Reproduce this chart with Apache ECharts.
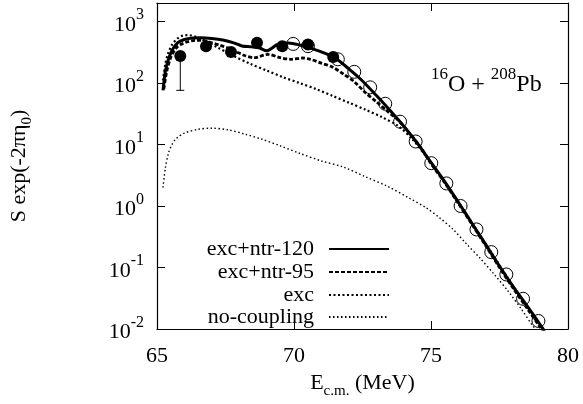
<!DOCTYPE html>
<html>
<head>
<meta charset="utf-8">
<script src="https://cdn.jsdelivr.net/npm/echarts@6/dist/echarts.min.js"></script>
<style>html,body{margin:0;padding:0;background:#fff}#c{width:583px;height:404px}</style>
</head>
<body>
<div id="c"></div>
<script>
// exc+ntr-120 (solid)
const E_ntr120 = [65.22,65.3,65.4,65.55,65.75,66.0,66.3,66.6,67.0,67.4,67.8,68.1,68.45,68.75,69.0,69.4,69.8,70.25,70.6,71.0,71.5,72.0,72.5,73.0,73.5,74.0,74.5,75.0,75.5,76.0,76.5,77.0,77.5,78.0,78.5,79.0,79.15];
const S_ntr120 = [76,150,230,340,450,510,540,545,530,500,450,400,387,370,334,424,449,410,370,320,255,170,108,63,36,20,10.5,5.1,2.5,1.15,0.52,0.235,0.105,0.049,0.024,0.0115,0.0092];
// exc+ntr-95 (dashed)
const E_ntr95 = [65.25,65.35,65.5,65.7,65.9,66.1,66.4,66.7,67.0,67.3,67.6,67.9,68.2,68.55,69.05,69.5,69.9,70.3,70.6,71.0,71.4,71.8,72.2,72.6,73.0,73.4,73.8,74.2,74.6,75.0,75.5,76.0,76.5,77.0,77.5,78.0,78.5,79.0,79.15];
const S_ntr95 = [80,150,260,370,430,465,495,490,450,410,370,320,280,258,292,258,243,255,243,210,182,140,105,70,50,35,25,15.5,9.3,4.9,2.4,1.1,0.5,0.225,0.1,0.046,0.022,0.0105,0.0088];
// exc (dotted)
const E_exc = [65.22,65.3,65.4,65.55,65.75,65.95,66.15,66.4,66.75,67.2,67.8,68.4,69.0,69.6,70.2,70.8,71.4,72.0,72.6,73.2,73.8,74.3,74.8,75.3,75.8,76.3,76.8,77.3,77.8,78.3,78.8,79.1];
const S_exc = [110,200,300,420,530,590,600,570,480,380,275,205,160,124,100,80,62,48,37,28,20,12.5,6.6,3.3,1.55,0.72,0.33,0.15,0.068,0.031,0.0142,0.0092];
// no-coupling (fine dotted)
const E_noc = [65.22,65.3,65.42,65.55,65.7,66.0,66.5,67.0,67.6,68.2,68.8,69.5,70.2,71.0,71.8,72.6,73.4,74.2,74.8,75.3,75.8,76.3,76.8,77.3,77.8,78.3,78.7,78.85];
const S_noc = [2.0,4.0,7.3,10,12.5,15.3,17.7,18.4,17.3,14.8,12.3,9.5,7.2,5.4,4.3,3.0,2.1,1.35,0.95,0.65,0.42,0.24,0.14,0.078,0.042,0.021,0.0115,0.0095];
// experimental data
const E_open = [69.97,70.51,71.6,72.2,72.78,73.33,73.87,74.44,75.01,75.56,76.08,76.66,77.2,77.75,78.36,78.92];
const S_open = [432,397,243,152,85,46,23.5,11.2,4.97,2.33,1.0,0.416,0.178,0.077,0.031,0.0135];
const E_fill = [65.85,66.79,67.7,68.65,69.57,70.51,71.43];
const S_fill = [275,397,318,452,397,424,265];
const E_err = [65.85];
const S_errLo = [76];
const S_errHi = [275];
// axis
const xTicks = [65,70,75,80];
const seriesNames = ['exc+ntr-120','exc+ntr-95','exc','no-coupling'];

const zip = (a,b) => a.map((v,i)=>[v,b[i]]);
const FONT = '"Liberation Serif","DejaVu Serif",serif';
const supRich = {
  b:{fontSize:22,fontFamily:FONT,color:'#000',padding:[7,0,0,0],verticalAlign:'bottom'},
  s:{fontSize:16,fontFamily:FONT,color:'#000',verticalAlign:'top'}
};
const logFmt = v => {
  const e = Math.log10(v);
  if (Math.abs(e-Math.round(e))>1e-6) return '';
  return '{b|10}{s|'+Math.round(e)+'}';
};
const tickStyle = {show:true,inside:true,length:8,lineStyle:{color:'#000',width:1}};
const lineAx = {show:true,lineStyle:{color:'#000',width:1.2}};

const mkLegend = (name, centerY) => ({
  data:[name], right:193, top:centerY-12, align:'right', orient:'horizontal', padding:0,
  itemWidth:60, itemHeight:14, selectedMode:false,
  itemStyle:{opacity:0},
  textStyle:{fontSize:22,fontFamily:FONT,color:'#000',padding:[0,10,0,0]}
});

const chart = echarts.init(document.getElementById('c'), null, {renderer:'canvas'});
chart.setOption({
  animation:false,
  backgroundColor:'#fff',
  color:['#000'],
  grid:{left:155,right:15,top:3,bottom:71.5,containLabel:false},
  legend:[mkLegend(seriesNames[0],250),mkLegend(seriesNames[1],273),mkLegend(seriesNames[2],296),mkLegend(seriesNames[3],318)],
  xAxis:[{
    type:'value',min:xTicks[0],max:xTicks[xTicks.length-1],interval:5,
    axisLine:lineAx,axisTick:tickStyle,splitLine:{show:false},
    axisLabel:{fontSize:22,fontFamily:FONT,color:'#000',margin:16},
    name:'{b|E}{sub|c.m.}{b| (MeV)}',nameLocation:'middle',nameGap:43,
    nameTextStyle:{rich:{
      b:{fontSize:22,fontFamily:FONT,color:'#000',padding:[0,0,5,0],verticalAlign:'top'},
      sub:{fontSize:15,fontFamily:FONT,color:'#000',verticalAlign:'bottom'}
    }}
  },{
    type:'value',position:'top',min:xTicks[0],max:xTicks[xTicks.length-1],interval:5,
    axisLine:lineAx,axisTick:tickStyle,axisLabel:{show:false},splitLine:{show:false}
  }],
  yAxis:[{
    type:'log',logBase:10,min:0.01,max:2000,
    axisLine:lineAx,axisTick:tickStyle,splitLine:{show:false},
    axisLabel:{formatter:logFmt,rich:supRich,margin:13,showMaxLabel:false},
    name:'{b|S exp(-2πη}{sub|0}{b|)}',nameLocation:'middle',nameRotate:90,nameGap:122,
    nameTextStyle:{rich:{
      b:{fontSize:22,fontFamily:FONT,color:'#000',padding:[0,0,5,0],verticalAlign:'top'},
      sub:{fontSize:15,fontFamily:FONT,color:'#000',verticalAlign:'bottom'}
    }}
  },{
    type:'log',logBase:10,min:0.01,max:2000,position:'right',
    axisLine:lineAx,axisTick:tickStyle,axisLabel:{show:false},splitLine:{show:false}
  }],
  graphic:[{
    type:'text',left:431,top:66,
    style:{
      text:'{s|16}{b|O + }{s|208}{b|Pb}',
      rich:{
        b:{fontSize:24,fontFamily:FONT,fill:'#000',padding:[7,0,0,0],verticalAlign:'bottom'},
        s:{fontSize:17,fontFamily:FONT,fill:'#000',verticalAlign:'top'}
      }
    }
  }],
  series:[
    {name:seriesNames[3],type:'line',data:zip(E_noc,S_noc),symbol:'none',smooth:0.3,
     itemStyle:{color:'#000'},lineStyle:{color:'#000',width:1.4,type:[1.5,2.5]},z:2},
    {name:seriesNames[2],type:'line',data:zip(E_exc,S_exc),symbol:'none',smooth:0.3,
     itemStyle:{color:'#000'},lineStyle:{color:'#000',width:2.2,type:[2,2.5]},z:2},
    {name:seriesNames[1],type:'line',data:zip(E_ntr95,S_ntr95),symbol:'none',smooth:0.3,
     itemStyle:{color:'#000'},lineStyle:{color:'#000',width:2.8,type:[4,2]},z:3},
    {name:seriesNames[0],type:'line',data:zip(E_ntr120,S_ntr120),symbol:'none',smooth:0.3,
     itemStyle:{color:'#000'},lineStyle:{color:'#000',width:3},z:4},
    {name:'open',type:'scatter',data:zip(E_open,S_open),symbol:'circle',symbolSize:13,
     itemStyle:{color:'rgba(0,0,0,0)',borderColor:'#000',borderWidth:1,opacity:1},z:5},
    {name:'err',type:'custom',data:E_err.map((e,i)=>[e,S_errLo[i],S_errHi[i]]),
     encode:{x:0,y:[1,2]},z:5,
     renderItem:(params,api)=>{
       const x=api.value(0);
       const lo=api.coord([x,api.value(1)]);
       const hi=api.coord([x,api.value(2)]);
       const st={stroke:'#000',lineWidth:1};
       return {type:'group',children:[
         {type:'line',shape:{x1:lo[0],y1:lo[1],x2:hi[0],y2:hi[1]},style:st},
         {type:'line',shape:{x1:lo[0]-4,y1:lo[1],x2:lo[0]+4,y2:lo[1]},style:st}
       ]};
     }},
    {name:'filled',type:'scatter',data:zip(E_fill,S_fill),symbol:'circle',symbolSize:12,
     itemStyle:{color:'#000',opacity:1},z:6}
  ]
});
</script>
</body>
</html>
